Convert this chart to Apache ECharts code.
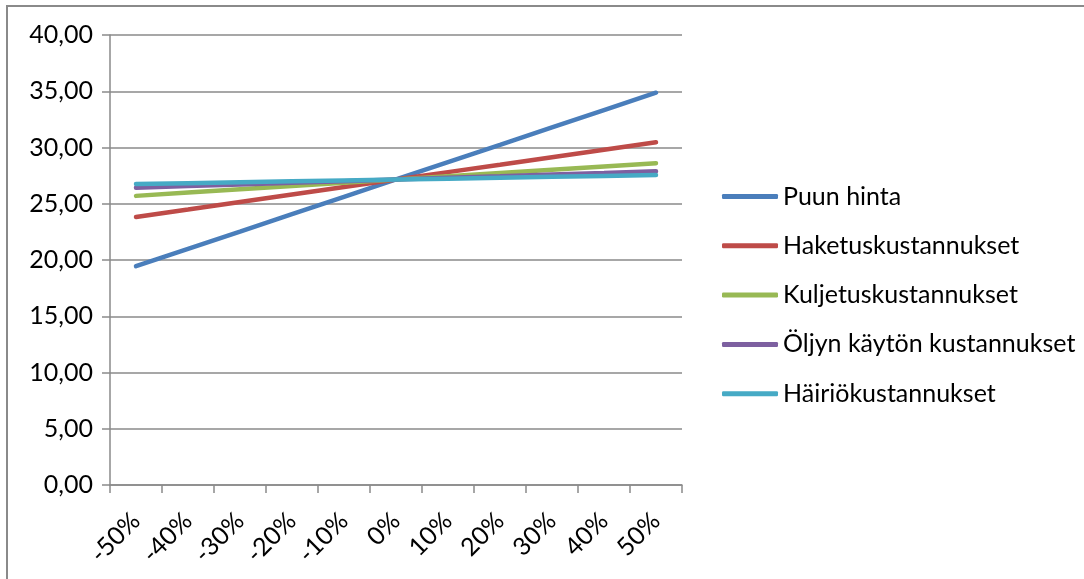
<!DOCTYPE html>
<html>
<head>
<meta charset="utf-8">
<script src="https://cdn.jsdelivr.net/npm/echarts@6/dist/echarts.min.js"></script>
<style>
  html, body { margin: 0; padding: 0; background: #fff; }
  #chart { width: 1084px; height: 579px; }
</style>
</head>
<body>
<div id="chart"></div>
<script>
// Change in the input price vs. resulting unit cost
const categories = ['-50%', '-40%', '-30%', '-20%', '-10%', '0%', '10%', '20%', '30%', '40%', '50%'];

const puunHinta = [19.45, 20.99, 22.53, 24.08, 25.62, 27.16, 28.70, 30.24, 31.79, 33.33, 34.87];
const haketuskustannukset = [23.83, 24.49, 25.16, 25.82, 26.48, 27.15, 27.81, 28.47, 29.14, 29.80, 30.46];
const kuljetuskustannukset = [25.70, 25.99, 26.28, 26.57, 26.86, 27.15, 27.44, 27.73, 28.02, 28.31, 28.60];
const oljynKaytonKustannukset = [26.43, 26.58, 26.72, 26.87, 27.01, 27.16, 27.31, 27.45, 27.60, 27.74, 27.89];
const hairiokustannukset = [26.75, 26.83, 26.91, 26.99, 27.07, 27.15, 27.23, 27.31, 27.39, 27.47, 27.55];

const seriesNames = ['Puun hinta', 'Haketuskustannukset', 'Kuljetuskustannukset', 'Öljyn käytön kustannukset', 'Häiriökustannukset'];
const seriesData = [puunHinta, haketuskustannukset, kuljetuskustannukset, oljynKaytonKustannukset, hairiokustannukset];
const colors = ['#4A7EBB', '#BE4B48', '#98B954', '#7D60A0', '#46AAC5'];

const FONT = 'Lato, "Open Sans", sans-serif';
const FONT_SIZE = 25;
const AXIS_GRAY = '#8a8a8a';

const chart = echarts.init(document.getElementById('chart'), null, { renderer: 'canvas' });

chart.setOption({
  animation: false,
  backgroundColor: '#ffffff',
  color: colors,
  textStyle: { fontFamily: FONT },
  grid: { left: 110, right: 402, top: 35, bottom: 94, containLabel: false },
  graphic: [
    {
      type: 'polyline',
      shape: { points: [[7, 579], [7, 6], [1084, 6]] },
      style: { stroke: '#8a8a8a', lineWidth: 2, fill: null },
      silent: true
    }
  ],
  legend: {
    orient: 'vertical',
    left: 722,
    top: 184,
    padding: 0,
    icon: 'roundRect',
    itemWidth: 56,
    itemHeight: 5,
    itemGap: 24.3,
    textStyle: { fontFamily: FONT, fontSize: FONT_SIZE, color: '#000' },
    data: seriesNames
  },
  xAxis: {
    type: 'category',
    data: categories,
    boundaryGap: true,
    axisLine: { lineStyle: { color: AXIS_GRAY, width: 1.5 } },
    axisTick: { show: true, alignWithLabel: false, length: 8, lineStyle: { color: AXIS_GRAY, width: 1.5 } },
    axisLabel: { rotate: 45, fontSize: FONT_SIZE, fontFamily: FONT, color: '#000', margin: 32, interval: 0 }
  },
  yAxis: {
    type: 'value',
    min: 0,
    max: 40,
    interval: 5,
    axisLine: { show: true, lineStyle: { color: AXIS_GRAY, width: 1.5 } },
    axisTick: { show: true, length: 8, lineStyle: { color: AXIS_GRAY, width: 1.5 } },
    splitLine: { show: true, lineStyle: { color: AXIS_GRAY, width: 1.5 } },
    axisLabel: {
      fontSize: FONT_SIZE,
      fontFamily: FONT,
      color: '#000',
      margin: 17,
      formatter: v => v.toFixed(2).replace('.', ',')
    }
  },
  series: seriesNames.map((name, i) => ({
    name: name,
    type: 'line',
    data: seriesData[i],
    showSymbol: false,
    symbol: 'none',
    lineStyle: { width: 4.5, color: colors[i], cap: 'round' },
    itemStyle: { color: colors[i] }
  }))
});
</script>
</body>
</html>
